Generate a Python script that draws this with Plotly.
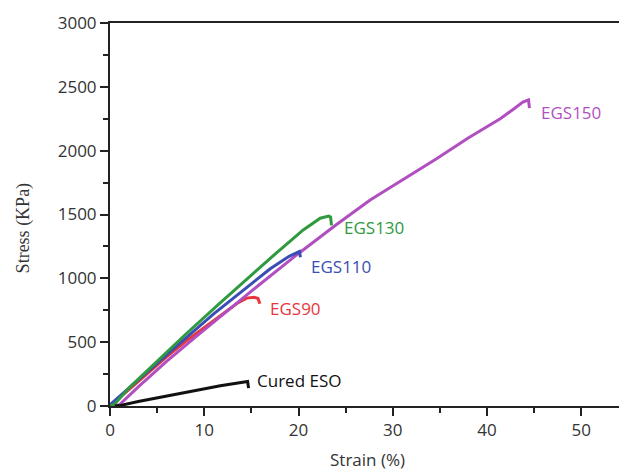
import plotly.graph_objects as go

# Data (strain %, stress KPa)
eso_x = [0.5, 1.0, 3.0, 6.0, 9.5, 11.7, 13.5, 14.3, 14.6, 14.7]
eso_y = [0, 3, 35, 80, 128, 158, 180, 190, 192, 140]

egs90_x = [0, 2, 4, 6, 8, 10, 12, 13.5, 14.5, 15.3, 15.7, 15.9]
egs90_y = [0, 130, 262, 385, 505, 615, 725, 805, 845, 852, 842, 800]

egs110_x = [0, 2, 5, 8, 11, 14, 17, 19, 20.1, 20.2]
egs110_y = [10, 140, 340, 530, 722, 895, 1075, 1172, 1210, 1165]

egs130_x = [0, 0.5, 2, 5, 8, 11.66, 14, 17, 20.5, 22.3, 23.2, 23.4, 23.5]
egs130_y = [0, 15, 140, 350, 560, 805, 960, 1157, 1379, 1471, 1487, 1480, 1415]

egs150_x = [0.5, 1, 3, 6, 9, 11.66, 15, 20, 24, 27.6, 31, 34.6, 38, 41.4, 42.9, 43.8, 44.4, 44.5]
egs150_y = [0, 10, 150, 350, 535, 700, 900, 1195, 1420, 1614, 1770, 1935, 2100, 2250, 2330, 2380, 2398, 2333]

series_names = ["Cured ESO", "EGS90", "EGS110", "EGS130", "EGS150"]
series_colors = ["#111111", "#e8353b", "#3a4db4", "#2f9a40", "#b14fc1"]
label_x = [15.4, 16.75, 21.1, 24.6, 45.5]
label_y = [196, 760, 1089, 1395, 2296]

series = [(eso_x, eso_y), (egs90_x, egs90_y), (egs110_x, egs110_y),
          (egs130_x, egs130_y), (egs150_x, egs150_y)]

fig = go.Figure()
for i in [1, 4, 2, 3, 0]:
    xs, ys = series[i]
    fig.add_trace(go.Scatter(x=xs, y=ys, mode="lines", name=series_names[i],
                             line=dict(color=series_colors[i], width=3),
                             showlegend=False))

for i in range(5):
    fig.add_annotation(x=label_x[i], y=label_y[i], text=series_names[i],
                       xanchor="left", yanchor="middle", showarrow=False,
                       font=dict(family="Open Sans", size=17, color=series_colors[i]))

fig.add_annotation(xref="paper", yref="paper", x=-0.17, y=0.465,
                   text="Stress (KPa)", textangle=-90, showarrow=False,
                   xanchor="center", yanchor="middle",
                   font=dict(family="Liberation Serif", size=18, color="#333333"))
fig.add_annotation(xref="paper", yref="paper", x=0.506, y=-0.14,
                   text="Strain (%)", showarrow=False,
                   xanchor="center", yanchor="middle",
                   font=dict(family="Open Sans", size=17, color="#333333"))

axis_common = dict(showgrid=False, zeroline=False, showline=True,
                   linecolor="#222222", linewidth=2, ticks="outside",
                   ticklen=8, tickwidth=2, tickcolor="#222222",
                   tickfont=dict(family="Open Sans", size=17, color="#333333"))

fig.update_xaxes(range=[0, 54], dtick=10, tick0=0, mirror=True,
                 minor=dict(dtick=5, ticks="outside", ticklen=5, tickwidth=2,
                            tickcolor="#222222"),
                 **axis_common)
fig.update_yaxes(range=[0, 3000], dtick=500, tick0=0,
                 minor=dict(dtick=250, ticks="outside", ticklen=5, tickwidth=2,
                            tickcolor="#222222"),
                 **axis_common)

fig.update_layout(width=619, height=473, plot_bgcolor="white", paper_bgcolor="white",
                  margin=dict(l=110, r=0, t=23, b=67))

fig.write_html("out.html", config={"displayModeBar": False},
               post_script="document.body.style.margin='0';document.body.style.overflow='hidden';")
